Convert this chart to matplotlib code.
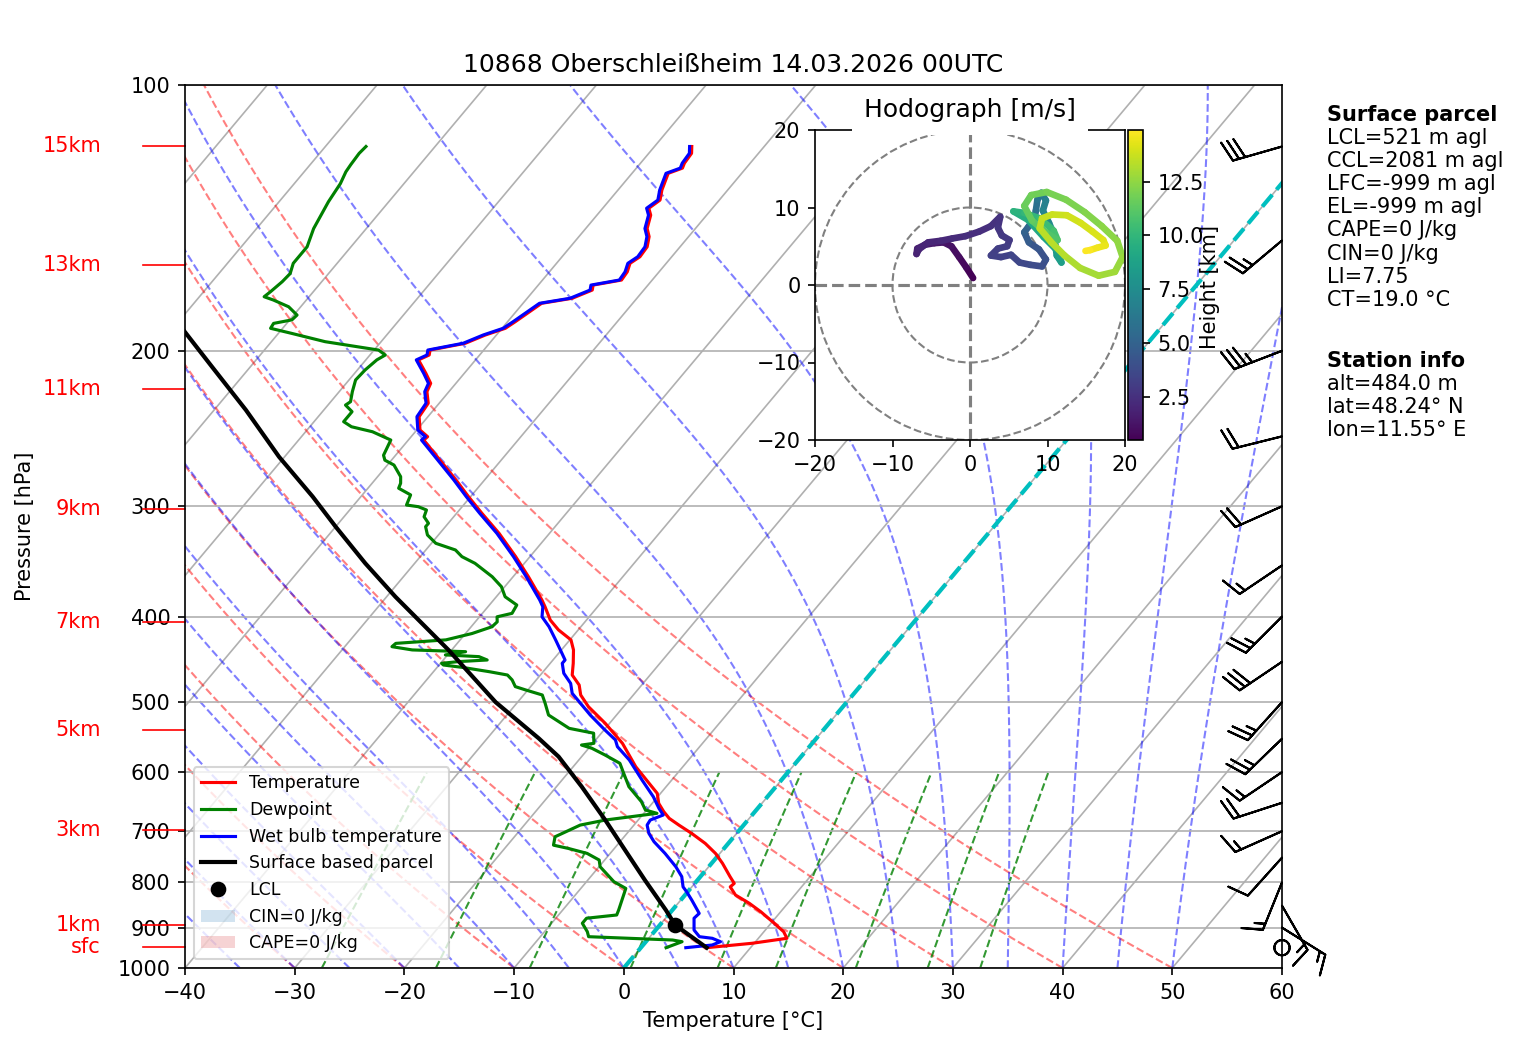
import numpy as np
import matplotlib
matplotlib.use("Agg")
import matplotlib.pyplot as plt
from matplotlib import transforms
from matplotlib.collections import LineCollection
from matplotlib.lines import Line2D
from matplotlib.patches import Patch, Circle
from matplotlib.ticker import NullLocator

# ---------------------------------------------------------------
# sounding values (pressure in hPa, temp in C)
# ---------------------------------------------------------------
p_temp = [948.4, 937.6, 925.5, 909.7, 886.1, 863.7, 844.8, 826.7, 809.3, 802.0,
          788.0, 761.2, 741.7, 722.6, 704.0, 688.9, 676.9, 665.3, 651.0, 634.2,
          617.9, 591.6, 556.6, 528.3, 505.9, 490.7, 478.1, 465.8, 451.8, 436.3,
          425.0, 414.1, 403.6, 389.8, 383.0, 360.5, 342.1, 321.9, 305.5, 292.5,
          280.1, 268.2, 256.8, 252.4, 250.2, 245.9, 237.5, 229.3, 222.5, 217.7,
          212.1, 204.8, 202.2, 199.6, 196.1, 191.9, 188.6, 185.4, 176.7, 174.4,
          170.7, 168.5, 166.3, 162.8, 159.2, 156.5, 152.5, 148.5, 145.4, 140.4,
          137.9, 135.0, 131.5, 125.9, 124.2, 122.6, 119.5, 117.4]
temp = [6.0, 9.8, 12.6, 11.8, 10.0, 8.2, 6.5, 4.6, 3.5, 3.6,
        2.7, 1.0, -0.4, -2.1, -4.1, -5.9, -7.3, -8.3, -9.4, -10.3,
        -11.8, -14.3, -17.3, -20.4, -23.2, -24.8, -25.7, -27.1, -27.9, -28.9,
        -29.9, -31.8, -33.3, -34.8, -35.6, -38.6, -41.3, -44.6, -47.7, -50.2,
        -52.6, -55.1, -57.6, -58.6, -58.5, -59.7, -60.8, -61.0, -62.0, -62.3,
        -63.5, -65.2, -64.6, -64.9, -62.2, -61.0, -59.7, -59.3, -58.3, -55.9,
        -54.7, -55.0, -52.8, -52.9, -53.3, -52.9, -53.0, -53.6, -54.4, -55.1,
        -55.8, -55.4, -56.0, -56.7, -55.8, -56.0, -56.1, -56.6]

p_dew = [948.4, 933.7, 929.6, 921.6, 909.7, 889.9, 878.3, 870.9, 859.7, 812.6,
         798.5, 767.9, 754.6, 741.7, 732.1, 725.9, 710.2, 688.9, 679.9, 668.1,
         662.4, 648.2, 623.2, 601.8, 586.4, 573.8, 563.9, 559.1, 556.6, 542.1,
         535.3, 517.0, 501.5, 490.7, 484.3, 480.1, 471.8, 465.8, 461.8, 456.6,
         453.8, 451.8, 449.8, 447.9, 444.0, 442.0, 438.3, 436.3, 432.6, 428.9,
         427.1, 425.0, 418.0, 410.7, 405.5, 400.2, 396.6, 388.1, 379.8, 370.0,
         360.5, 348.1, 342.1, 336.2, 330.4, 323.3, 316.4, 313.6, 308.3, 302.9,
         300.3, 299.0, 291.2, 286.2, 282.5, 277.7, 269.4, 266.0, 262.6, 252.4,
         247.0, 243.8, 240.6, 234.4, 230.4, 228.4, 222.5, 215.8, 210.3, 204.8,
         202.2, 199.6, 195.3, 191.1, 188.6, 186.2, 184.5, 182.2, 178.3, 175.2,
         173.7, 171.4, 167.0, 163.5, 159.2, 152.5, 145.4, 135.6, 129.3, 125.4,
         123.1, 119.5, 117.4]
dewp = [2.3, 3.3, 2.3, -5.6, -6.1, -7.2, -7.2, -4.7, -4.9, -5.9,
        -7.5, -9.9, -10.5, -12.1, -14.2, -15.8, -16.3, -14.9, -13.0, -8.8,
        -10.1, -11.1, -13.4, -14.9, -16.0, -18.0, -19.7, -20.9, -19.9, -20.7,
        -23.3, -26.2, -27.4, -28.3, -30.2, -31.4, -32.2, -33.0, -34.9, -37.7,
        -39.6, -39.9, -38.5, -36.0, -37.0, -40.2, -38.6, -43.6, -45.7, -45.6,
        -43.6, -41.3, -39.4, -38.1, -38.0, -38.4, -37.3, -37.5, -39.2, -40.3,
        -41.9, -44.5, -46.2, -47.3, -49.6, -51.0, -51.8, -51.8, -52.7, -53.0,
        -54.0, -55.2, -55.6, -57.2, -57.4, -57.9, -59.4, -60.6, -61.1, -61.6,
        -63.9, -66.2, -67.3, -67.3, -68.4, -68.2, -68.8, -69.4, -69.3, -69.0,
        -68.6, -69.6, -75.1, -78.8, -81.1, -81.2, -79.8, -79.7, -81.1, -83.0,
        -84.1, -83.9, -83.6, -83.5, -84.0, -84.0, -84.8, -85.5, -85.8, -86.2,
        -86.3, -86.4, -86.3]

p_wet = [948.4, 941.8, 933.7, 925.5, 921.6, 905.7, 878.3, 867.3, 837.6, 819.7,
         809.3, 788.0, 767.9, 741.7, 719.4, 704.0, 688.9, 679.9, 671.0, 659.5,
         639.8, 612.6, 581.3, 561.5, 551.7, 537.7, 517.0, 488.6, 476.1, 463.7,
         451.8, 447.9, 440.1, 425.0, 410.7, 400.2, 389.8, 383.0, 360.5, 342.1,
         321.9, 305.5, 292.5, 280.1, 268.2, 256.8, 252.4, 250.2, 245.9, 237.5,
         229.3, 222.5, 217.7, 212.1, 204.8, 202.2, 199.6, 196.1, 191.9, 188.6,
         185.4, 176.7, 174.4, 170.7, 168.5, 166.3, 162.8, 159.2, 156.5, 152.5,
         148.5, 145.4, 140.4, 137.9, 135.0, 131.5, 125.9, 124.2, 122.6, 119.5,
         117.4]
wetbulb = [4.1, 6.3, 6.8, 5.8, 4.5, 3.5, 2.6, 2.7, 1.0, -0.1,
           -0.8, -1.7, -3.0, -5.0, -6.9, -8.0, -8.8, -8.9, -8.1, -9.0,
           -10.4, -12.7, -15.4, -17.5, -18.2, -19.9, -22.4, -25.7, -26.6, -28.0,
           -28.9, -28.9, -29.7, -31.3, -32.9, -34.3, -35.0, -35.8, -38.8, -41.5,
           -44.8, -47.9, -50.4, -52.8, -55.3, -57.8, -58.8, -58.7, -59.9, -61.0,
           -61.2, -62.2, -62.5, -63.7, -65.4, -64.8, -65.1, -62.4, -61.2, -59.9,
           -59.5, -58.5, -56.1, -54.9, -55.2, -53.0, -53.1, -53.5, -53.1, -53.2,
           -53.8, -54.6, -55.3, -56.0, -55.6, -56.2, -56.9, -56.0, -56.2, -56.3,
           -56.8]

p_parcel = [948.4, 894.0, 859.7, 795.1, 735.3, 679.9, 623.2, 576.3, 549.5, 500.0,
            436.3, 403.6, 379.8, 348.1, 316.4, 292.5, 263.7, 233.4, 208.5, 189.5]
t_parcel = [6.0, 1.4, -0.6, -4.8, -8.9, -13.0, -17.7, -22.1, -25.3, -32.0,
            -40.3, -45.3, -49.2, -54.5, -60.0, -64.4, -70.5, -77.1, -83.5, -88.9]
p_lcl = 894.0
t_lcl = 1.4

# wind barbs on the right border (knots)
barb_p = [948.4, 900, 850, 800, 750, 700, 650, 600, 550, 500,
          450, 400, 350, 300, 250, 200, 150, 117.4]
barb_dir = [0, 122, 150, 202, 222, 246, 252, 236, 226, 222,
            236, 225, 236, 246, 256, 249, 230, 254]
barb_spd = [0, 15, 15, 15, 10, 15, 20, 15, 25, 25,
            30, 25, 15, 20, 20, 35, 25, 30]

# height marks on the left border
height_labels = ["sfc", "1km", "3km", "5km", "7km", "9km", "11km", "13km", "15km"]
height_p = [946.0, 894.0, 698.0, 538.0, 406.0, 302.0, 221.0, 160.0, 117.2]

# hodograph (m/s) with height (km)
hodo_z = [0.48, 0.7, 0.9, 1.1, 1.25, 1.4, 1.55, 1.7, 1.8, 1.9,
          2.0, 2.1, 2.2, 2.3, 2.4, 2.5, 2.6, 2.7, 2.8, 2.9,
          3.0, 3.1, 3.2, 3.3, 3.4, 3.55, 3.7, 3.85, 4.0, 4.2,
          4.5, 4.8, 5.1, 5.4, 5.7, 6.0, 6.3, 6.6, 6.9, 7.2,
          7.5, 7.8, 8.1, 8.4, 8.7, 9.0, 9.3, 9.6, 9.9, 10.2,
          10.5, 10.8, 11.1, 11.4, 11.55, 11.7, 11.85, 12.0, 12.15, 12.3,
          12.45, 12.6, 12.75, 12.9, 13.05, 13.2, 13.35, 13.5, 13.6, 13.7,
          13.8, 13.9, 14.0, 14.15, 14.3, 14.5, 14.7, 14.9]
hodo_u = [0.4, -0.5, -1.4, -2.4, -3.4, -4.6, -5.8, -6.8, -6.9, -6.6,
          -5.4, -3.8, -2.3, -0.6, 1.2, 2.7, 3.9, 3.6, 4.1, 5.1,
          4.8, 3.6, 2.7, 4.0, 5.3, 6.4, 7.8, 9.3, 9.8, 8.9,
          7.6, 7.0, 7.6, 8.3, 8.5, 8.7, 9.2, 9.8, 9.4, 10.2,
          10.8, 11.0, 11.2, 11.8, 11.2, 9.5, 7.5, 5.6, 7.0, 9.0,
          10.8, 11.3, 9.8, 8.0, 7.0, 7.9, 9.9, 12.4, 14.8, 17.0,
          19.0, 19.7, 18.7, 16.6, 14.2, 12.2, 10.5, 9.0, 9.3, 10.6,
          12.5, 14.3, 15.8, 17.2, 17.5, 16.4, 15.5, 14.9]
hodo_v = [0.9, 2.3, 3.6, 5.0, 5.5, 5.4, 5.2, 4.7, 4.0, 4.6,
          5.5, 5.7, 6.0, 6.3, 6.9, 7.6, 8.8, 7.4, 6.4, 5.8,
          5.0, 4.7, 3.8, 3.6, 3.9, 2.9, 2.6, 2.4, 3.3, 4.6,
          5.5, 6.8, 7.6, 8.4, 9.6, 11.0, 11.9, 10.9, 9.6, 8.0,
          6.6, 5.2, 3.8, 2.9, 4.5, 6.2, 8.4, 9.5, 9.3, 8.6,
          7.0, 5.8, 6.8, 8.3, 10.2, 11.6, 12.0, 11.0, 9.4, 7.6,
          5.7, 3.6, 1.7, 1.2, 2.2, 3.8, 5.5, 7.3, 8.6, 9.1,
          9.0, 8.0, 6.9, 5.8, 5.1, 4.8, 4.5, 4.4]

# reference lines of the diagram
dry_theta = np.arange(-40, 51, 10)       # degC at 1000 hPa
moist_t0 = np.arange(-40, 51, 5)         # degC at 1000 hPa
mix_ratios = [0.0004, 0.001, 0.002, 0.004, 0.007, 0.01, 0.016, 0.024, 0.032]

SKEW = 67.5  # x shift (degC) per decade of pressure


def skew_x(t, p):
    """ skewed x coordinate of temperature t at pressure p """
    return np.asarray(t, dtype=float) + SKEW * np.log10(1000.0 / np.asarray(p, dtype=float))
# enddef skew_x() #


def dtdp_moist(T, p):
    """ saturated lapse rate dT/dp, T in K, p in hPa """
    Rd, Cp, Lv, eps = 287.04, 1005.7, 2.501e6, 0.622
    es = 6.112 * np.exp(17.67 * (T - 273.15) / (T - 29.65))
    rs = eps * es / (p - es)
    return (Rd * T + Lv * rs) / (p * (Cp + Lv * Lv * rs * eps / (Rd * T * T)))
# enddef dtdp_moist() #


def moist_adiabats(t0, p):
    """ integrate moist adiabats from 1000 hPa upward (RK4) """
    t = np.empty((len(t0), len(p)))
    t[:, 0] = np.asarray(t0, dtype=float) + 273.15
    for i in range(1, len(p)):
        dp = p[i] - p[i - 1]
        T, pp = t[:, i - 1], p[i - 1]
        k1 = dtdp_moist(T, pp)
        k2 = dtdp_moist(T + 0.5 * dp * k1, pp + 0.5 * dp)
        k3 = dtdp_moist(T + 0.5 * dp * k2, pp + 0.5 * dp)
        k4 = dtdp_moist(T + dp * k3, pp + dp)
        t[:, i] = T + dp * (k1 + 2 * k2 + 2 * k3 + k4) / 6.0
    return t - 273.15
# enddef moist_adiabats() #


W, H = 1517, 1054
fig = plt.figure(figsize=(W / 150, H / 150), dpi=150)


def fx(px):
    return px / W


def fy(py):
    return 1 - py / H


ax = fig.add_axes([fx(185), fy(968), 1097 / W, 883 / H])
ax.set_yscale('log')
ax.set_ylim(1000, 100)
ax.set_xlim(-40, 60)
pticks = list(range(100, 1001, 100))
ax.set_yticks(pticks)
ax.set_yticklabels([str(t) for t in pticks])
ax.yaxis.set_minor_locator(NullLocator())
ax.set_xticks(range(-40, 61, 10))
ax.grid(True, axis='y', color='#b0b0b0', lw=0.8)

# isotherms
for t in range(-110, 61, 10):
    ax.plot(skew_x([t, t], [1000, 100]), [1000, 100], color='#b0b0b0', lw=0.8, zorder=1)

pgrid = np.linspace(1000, 100, 181)
# dry adiabats
for th in dry_theta:
    tt = (th + 273.15) * (pgrid / 1000.0) ** 0.2857 - 273.15
    ax.plot(skew_x(tt, pgrid), pgrid, color='r', ls='--', lw=1, alpha=0.5, zorder=1)
# moist adiabats
for tt in moist_adiabats(moist_t0, pgrid):
    ax.plot(skew_x(tt, pgrid), pgrid, color='b', ls='--', lw=1, alpha=0.5, zorder=1)
# mixing ratio lines
pmix = np.linspace(1000, 600, 41)
for w in mix_ratios:
    e = w * pmix / (0.622 + w)
    lg = np.log(e / 6.112)
    td = 243.5 * lg / (17.67 - lg)
    ax.plot(skew_x(td, pmix), pmix, color='g', ls='--', lw=1, alpha=0.8, zorder=1)

# 0 degC isotherm
ax.plot(skew_x([0, 0], [1000, 100]), [1000, 100], color='c', ls='--', lw=2, zorder=2)

# profiles
ax.plot(skew_x(temp, p_temp), p_temp, color='r', lw=1.5, zorder=3)
ax.plot(skew_x(dewp, p_dew), p_dew, color='g', lw=1.5, zorder=3)
ax.plot(skew_x(wetbulb, p_wet), p_wet, color='b', lw=1.5, zorder=3)
ax.plot(skew_x(t_parcel, p_parcel), p_parcel, color='k', lw=2, zorder=3)
ax.plot(skew_x([t_lcl], [p_lcl]), [p_lcl], 'ko', ms=6.5, zorder=4)

# wind barbs at the right border
edge_tr = transforms.blended_transform_factory(ax.transAxes, ax.transData)
wd = np.deg2rad(barb_dir)
bu = -np.array(barb_spd) * np.sin(wd)
bv = -np.array(barb_spd) * np.cos(wd)
ax.barbs(np.ones(len(barb_p)), barb_p, bu, bv, transform=edge_tr,
         clip_on=False, length=7, zorder=5)

# height marks at the left border
for lab, pz in zip(height_labels, height_p):
    ax.plot([-0.0383, 0], [pz, pz], color='r', lw=0.8, transform=edge_tr, clip_on=False)
    ax.text(-0.0766, pz, lab, color='r', ha='right', va='center', fontsize=10,
            transform=edge_tr)

ax.set_title('10868 Oberschleißheim 14.03.2026 00UTC', fontsize=12)
ax.set_xlabel('Temperature [°C]')
ax.set_ylabel('Pressure [hPa]')
ax.yaxis.set_label_coords(-0.1368, 0.5)

handles = [Line2D([], [], color='r', lw=1.5),
           Line2D([], [], color='g', lw=1.5),
           Line2D([], [], color='b', lw=1.5),
           Line2D([], [], color='k', lw=2),
           Line2D([], [], color='k', marker='o', ls='none', ms=6.5),
           Patch(facecolor='tab:blue', alpha=0.2),
           Patch(facecolor='tab:red', alpha=0.2)]
labels = ['Temperature', 'Dewpoint', 'Wet bulb temperature', 'Surface based parcel',
          'LCL', 'CIN=0 J/kg', 'CAPE=0 J/kg']
ax.legend(handles, labels, loc='lower left', fontsize='small')

# hodograph inset
axh = fig.add_axes([fx(815), fy(440), 310 / W, 310 / H])
axh.set_xlim(-20, 20)
axh.set_ylim(-20, 20)
axh.set_xticks([-20, -10, 0, 10, 20])
axh.set_yticks([-20, -10, 0, 10, 20])
for r in (10, 20):
    axh.add_patch(Circle((0, 0), r, fill=False, ls='--', color='gray', lw=1.0))
axh.axhline(0, color='gray', ls='--', lw=1.5)
axh.axvline(0, color='gray', ls='--', lw=1.5)
pts = np.column_stack([hodo_u, hodo_v]).reshape(-1, 1, 2)
segs = np.concatenate([pts[:-1], pts[1:]], axis=1)
zmid = 0.5 * (np.array(hodo_z[:-1]) + np.array(hodo_z[1:]))
lc = LineCollection(segs, cmap='viridis', linewidths=3.2, capstyle='round')
lc.set_array(zmid)
lc.set_clim(min(hodo_z), max(hodo_z))
axh.add_collection(lc)
axh.set_title('Hodograph [m/s]', fontsize=12,
              bbox=dict(facecolor='white', edgecolor='none', pad=6))
cax = fig.add_axes([fx(1128), fy(440), 15 / W, 310 / H])
fig.colorbar(lc, cax=cax)
fig.text(fx(1210), fy(287), 'Height [km]', rotation=90, ha='center', va='center',
         fontsize=10)

# text block on the right
info_x = fx(1327)
fig.text(info_x, fy(121), 'Surface parcel', fontweight='bold', fontsize=10, va='baseline')
parcel_lines = ['LCL=521 m agl', 'CCL=2081 m agl', 'LFC=-999 m agl', 'EL=-999 m agl',
                'CAPE=0 J/kg', 'CIN=0 J/kg', 'LI=7.75', 'CT=19.0 °C']
for i, s in enumerate(parcel_lines):
    fig.text(info_x, fy(121 + 23.1 * (i + 1)), s, fontsize=10, va='baseline')
fig.text(info_x, fy(367), 'Station info', fontweight='bold', fontsize=10, va='baseline')
station_lines = ['alt=484.0 m', 'lat=48.24° N', 'lon=11.55° E']
for i, s in enumerate(station_lines):
    fig.text(info_x, fy(367 + 23.1 * (i + 1)), s, fontsize=10, va='baseline')

fig.savefig('out.png', dpi=150)
